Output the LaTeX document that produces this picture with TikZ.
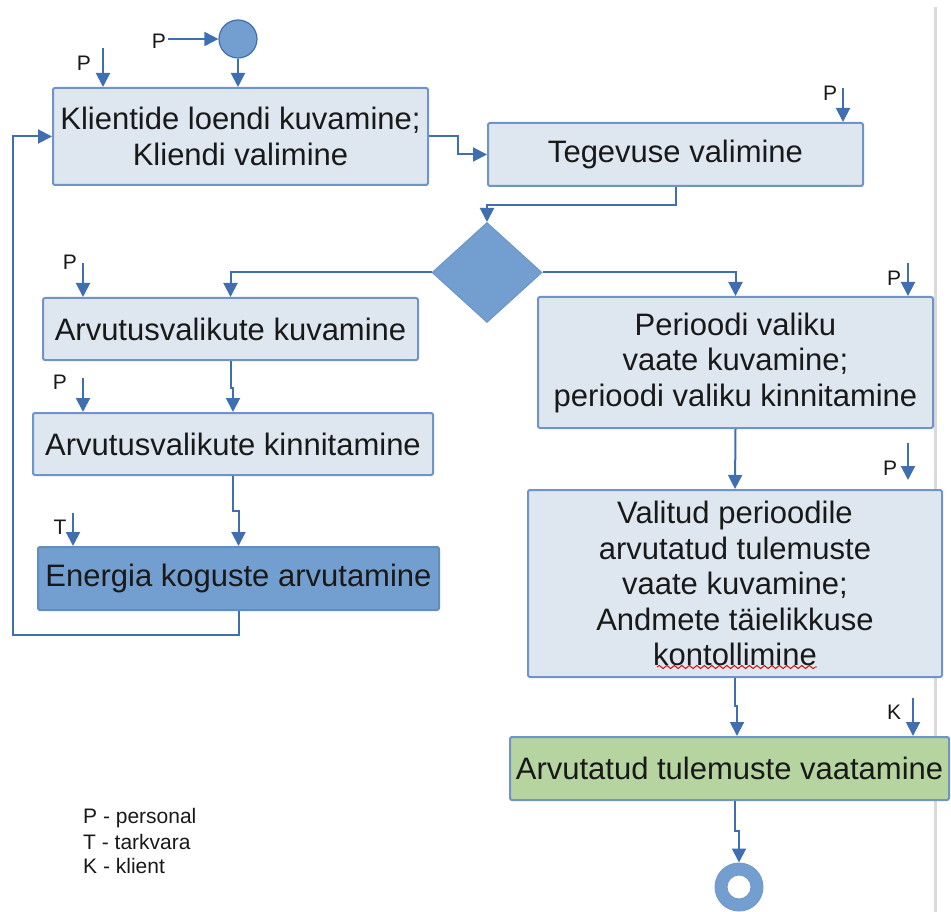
\documentclass[tikz,border=0pt]{standalone}
\usepackage{fontspec}
\setmainfont{Liberation Sans}
\usetikzlibrary{arrows.meta,shapes.geometric,decorations.pathmorphing}

\definecolor{lineblue}{HTML}{3F6FB0}
\definecolor{edgeblue}{HTML}{6F95C8}
\definecolor{paleblue}{HTML}{DEE6EF}
\definecolor{midblue}{HTML}{729FCF}
\definecolor{leafgreen}{HTML}{B5D4A0}
\definecolor{rulegray}{HTML}{DADADA}

\newcommand{\boxfont}{\fontsize{31}{35.5}\selectfont}
\newcommand{\tagfont}{\fontsize{21}{25}\selectfont}

\tikzset{
  flow/.style={draw=lineblue, line width=2pt, -{Triangle[length=14pt,width=14pt]}},
  actbox/.style={draw=edgeblue, line width=2pt, fill=paleblue, rounded corners=2pt,
    inner sep=0pt, align=center, font=\boxfont, text=black!90},
  tag/.style={inner sep=0pt, font=\tagfont, text=black!90},
}

\begin{document}
\begin{tikzpicture}[x=1pt, y=-1pt]
  \useasboundingbox (0,0) rectangle (951,912);

  % page margin rule
  \draw[rulegray, line width=3pt] (935,7) -- (935,912);

  % start node
  \node[circle, fill=midblue, draw=lineblue, line width=1.2pt, minimum size=38pt, inner sep=0pt] (start) at (238,39) {};

  % activities
  \node[actbox, minimum width=375pt, minimum height=97pt] (b1) at (240.5,136.5)
    {Klientide loendi kuvamine;\\Kliendi valimine};
  \node[actbox, minimum width=375pt, minimum height=63pt] (b2) at (675.5,154.5)
    {Tegevuse valimine};
  \node[diamond, fill=midblue, draw=edgeblue, line width=1pt, minimum width=110pt, minimum height=100pt, inner sep=0pt] (dia) at (487,272.5) {};
  \node[actbox, minimum width=375pt, minimum height=62pt] (b4) at (230.5,329)
    {Arvutusvalikute kuvamine};
  \node[actbox, minimum width=400pt, minimum height=62pt] (b5) at (233,444)
    {Arvutusvalikute kinnitamine};
  \node[actbox, fill=midblue, draw=lineblue!80, minimum width=401pt, minimum height=63pt] (b6) at (238.5,578.5)
    {Energia koguste arvutamine};
  \node[actbox, minimum width=395pt, minimum height=131pt] (b3) at (735.5,362.5)
    {Perioodi valiku\\vaate kuvamine;\\perioodi valiku kinnitamine};
  \node[actbox, minimum width=414pt, minimum height=187pt] (b7) at (735,583.5)
    {Valitud perioodile\\arvutatud tulemuste\\vaate kuvamine;\\Andmete täielikkuse\\kontollimine};
  \node[actbox, fill=leafgreen, minimum width=439pt, minimum height=63pt] (b8) at (729.5,768.5)
    {Arvutatud tulemuste vaatamine};

  % spell-check squiggle under the last line
  \draw[red!85!black, line width=0.9pt, decorate, decoration={snake, amplitude=1.6pt, segment length=7.5pt}]
    (657,667) -- (817,667);

  % end node
  \node[circle, fill=midblue, draw=lineblue!70, line width=1pt, minimum size=48pt, inner sep=0pt] (endc) at (739,887) {};
  \node[circle, fill=white, draw=lineblue!70, line width=1pt, minimum size=24pt, inner sep=0pt] (endhole) at (endc.center) {};

  % control flow
  \draw[flow] (start.south) -- (start.south |- b1.north);
  \draw[flow] (b1.east) -- ++(29,0) |- (b2.west);
  \draw[flow] (b2.south) -- ++(0,18) -| (dia.north);
  \draw[flow] (dia.west) -| (b4.north);
  \draw[flow] (dia.east) -| (b3.north);
  \draw[flow] (b4.south) -- ++(0,27) -| (b5.north);
  \draw[flow] (b5.south) -- ++(0,35) -| (b6.north);
  \coordinate (loopturn) at (13,635);
  \draw[flow] (b6.south) |- (loopturn) |- (b1.west);
  \draw[flow] (b3.south) -- (b7.north);
  \draw[flow] (b7.south) -- ++(0,28) -| ([xshift=7.5pt]b8.north);
  \draw[flow] ([xshift=5.5pt]b8.south) -- ++(0,30) -| (endc.north);

  % actor markers
  \node[tag] (pstart) at (159,41) {P};
  \coordinate (pstarta) at (168,39);
  \draw[flow] (pstarta) -- (start.west);

  \node[tag] (p1) at (84,63) {P};
  \coordinate (p1a) at (103,48);
  \draw[flow] (p1a) -- (p1a |- b1.north);

  \node[tag] (p2) at (830,93) {P};
  \coordinate (p2a) at (843,88);
  \draw[flow] (p2a) -- (p2a |- b2.north);

  \node[tag] (p4) at (70,262) {P};
  \coordinate (p4a) at (83,263);
  \draw[flow] (p4a) -- (p4a |- b4.north);

  \node[tag] (p5) at (60,382) {P};
  \coordinate (p5a) at (83,378);
  \draw[flow] (p5a) -- (p5a |- b5.north);

  \node[tag] (t6) at (60,527) {T};
  \coordinate (t6a) at (73,513);
  \draw[flow] (t6a) -- (t6a |- b6.north);

  \node[tag] (p3) at (894,278) {P};
  \coordinate (p3a) at (908,263);
  \draw[flow] (p3a) -- (p3a |- b3.north);

  \node[tag] (p7) at (890,468) {P};
  \coordinate (p7a) at (908,443);
  \coordinate (p7b) at (908,480);
  \draw[flow] (p7a) -- (p7b);

  \node[tag] (k8) at (894,712) {K};
  \coordinate (k8a) at (913,698);
  \draw[flow] (k8a) -- (k8a |- b8.north);

  % legend
  \node[tag, anchor=base west] (legP) at (83,823) {P - personal};
  \node[tag, anchor=base west] (legT) at (83,849) {T - tarkvara};
  \node[tag, anchor=base west] (legK) at (83,873) {K - klient};
\end{tikzpicture}
\end{document}
